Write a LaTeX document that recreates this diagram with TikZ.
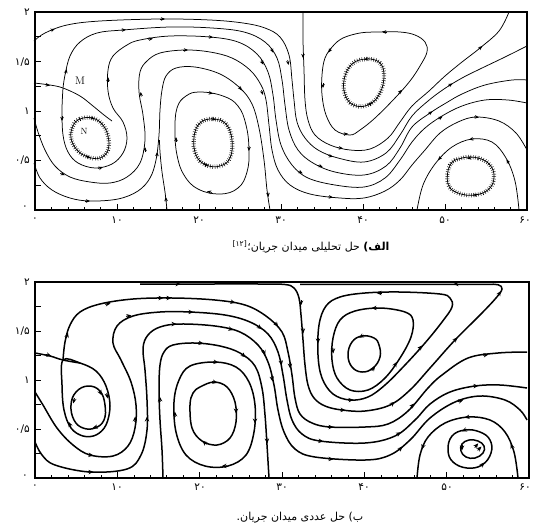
\documentclass[tikz,border=0pt]{standalone}
\usepackage{fontspec}
\newfontfamily\fa[Script=Arabic]{DejaVu Sans}
\TeXXeTstate=1
\usetikzlibrary{arrows.meta,calc}
\tikzset{
  frm/.style={line width=1.1pt},
  sla/.style={line width=0.75pt},
  slb/.style={line width=1.5pt},
  aht/.style={line width=0.6pt,-{Stealth[length=4.2pt,width=3.6pt]}},
  ahbs/.style={line width=0.9pt,-{Stealth[length=5pt,width=4.4pt]}},
  hairs/.style={line width=4.2pt, dash pattern=on 0.45pt off 1.9pt},
  ticklab/.style={font=\fa\fontsize{10.5}{11}\selectfont, inner sep=0pt},
  captxt/.style={font=\fa\fontsize{11}{12}\selectfont, inner sep=0pt},
  lettr/.style={font=\fontsize{11}{12}\selectfont, inner sep=0pt},
}
\newcommand\aha[2]{\draw[aht] ($(#1)!-2pt!(#2)$) -- ($(#1)!3pt!(#2)$);}
\newcommand\ahb[2]{\draw[ahbs] ($(#1)!-2pt!(#2)$) -- ($(#1)!3.5pt!(#2)$);}
\begin{document}
\begin{tikzpicture}[x=1pt,y=-1pt]
\path[use as bounding box] (0,0) rectangle (534,531);
% ================= TOP PANEL =================
\draw[frm] (35,12) rectangle (527,210);
\foreach \i in {1,...,7} \draw[line width=0.6pt] (35,{210-\i*24.75}) -- ++(6,0);
\foreach \i in {1,...,29} \draw[line width=0.6pt] ({35+\i*16.4},210) -- ++(0,-3.5);
\foreach \i in {1,...,5} \draw[line width=0.6pt] ({35+\i*82},210) -- ++(0,-6);
\node[ticklab,anchor=east] (ay1) at (30,12) {۲};
\node[ticklab,anchor=east] (ay2) at (30,62) {۱/۵};
\node[ticklab,anchor=east] (ay3) at (30,111) {۱};
\node[ticklab,anchor=east] (ay4) at (30,160) {۰/۵};
\node[ticklab,anchor=east] (ay5) at (28,208) {۰};
\node[ticklab] (ax0) at (35,220) {۰};
\node[ticklab] (ax1) at (117,220) {۱۰};
\node[ticklab] (ax2) at (199,220) {۲۰};
\node[ticklab] (ax3) at (281,220) {۳۰};
\node[ticklab] (ax4) at (363,220) {۴۰};
\node[ticklab] (ax5) at (445,220) {۵۰};
\node[ticklab] (ax6) at (525,220) {۶۰};
% C1
\draw[sla] plot[smooth,tension=0.6] coordinates {(34,41) (45,33) (67,25) (100,21) (160,19) (210,20) (243,23) (265,28) (280,37) (289,55) (292,80) (294,100) (297,122) (305,138) (318,150) (338,158) (364,162) (386,153) (400,135) (412,116) (428,101) (444,89) (462,78) (480,69) (505,57) (527,46)};
% C2 (from M)
\draw[sla] plot[smooth,tension=0.6] coordinates {(63,88) (65,75) (70,56) (80,42) (97,33) (123,30) (170,27) (212,28) (244,32) (265,42) (277,58) (282,80) (285,105) (289,130) (298,150) (313,163) (335,172) (364,175) (386,166) (400,148) (412,127) (430,113) (446,103) (462,94) (485,85) (512,80) (527,80)};
% C3 (loop around N through M)
\draw[sla] plot[smooth,tension=0.6] coordinates {(63,88) (62,110) (63,135) (68,152) (78,163) (95,168) (112,164) (123,153) (127,138) (123,122) (113,108) (108,91) (108,70) (113,56) (127,45) (140,40) (170,36) (210,37) (238,42) (257,54) (268,72) (273,95) (276,120) (281,145) (292,165) (308,178) (335,185) (364,187) (385,178) (400,160) (412,142) (425,128) (442,116) (462,106) (485,100) (508,100) (527,103)};
% L into M
\draw[sla] plot[smooth,tension=0.6] coordinates {(34,83) (50,85) (63,88) (80,96) (93,106) (104,115) (112,121)};
% C4
\draw[sla] plot[smooth,tension=0.6] coordinates {(34,118) (38,132) (45,150) (55,166) (70,177) (90,182) (110,183) (127,177) (140,163) (145,140) (143,115) (139,92) (140,72) (147,61) (160,53) (185,50) (210,52) (232,58) (250,70) (261,85) (266,100) (269,125) (272,150) (278,170) (290,185) (310,194) (340,198) (364,198) (385,191) (400,180) (412,165) (425,150) (440,133) (458,122) (476,117) (499,121) (516,133) (527,150)};
% C5
\draw[sla] plot[smooth,tension=0.6] coordinates {(34,163) (40,178) (52,190) (70,198) (90,201) (118,199) (138,191) (150,178) (156,160) (159,135) (160,110) (162,90) (166,76) (176,68) (195,67) (220,74) (240,88) (252,104) (259,128) (264,160) (267,190) (270,210)};
% vertical from bottom
\draw[sla] plot[smooth,tension=0.6] coordinates {(167,210) (165,192) (162,172) (160,152) (159.5,140)};
% separatrix from top
\draw[sla] plot[smooth,tension=0.6] coordinates {(303,12) (303,40) (304,70) (305,100) (308,120) (315,135) (330,145) (350,150) (370,149) (388,138) (400,122) (412,106) (429,91) (445,76) (462,62) (480,48) (499,31) (509,12)};
% vortex 1
\draw[sla] plot[smooth cycle,tension=0.7] coordinates {(73,126) (80,119) (92,118) (102,124) (108,136) (108,150) (100,158) (88,157) (77,150) (71,138)};
\draw[hairs] plot[smooth cycle,tension=0.7] coordinates {(73,126) (80,119) (92,118) (102,124) (108,136) (108,150) (100,158) (88,157) (77,150) (71,138)};
% vortex 2
\draw[sla] plot[smooth cycle,tension=0.7] coordinates {(177,108) (186,96) (200,92) (223,96) (238,106) (246,125) (249,150) (247,172) (238,188) (220,194) (198,189) (184,175) (177,155) (175,131)};
\draw[sla] plot[smooth cycle,tension=0.7] coordinates {(200,123) (213,119) (226,124) (232,140) (230,158) (220,166) (206,165) (196,155) (194,137)};
\draw[hairs] plot[smooth cycle,tension=0.7] coordinates {(200,123) (213,119) (226,124) (232,140) (230,158) (220,166) (206,165) (196,155) (194,137)};
% vortex 3
\draw[sla] plot[smooth cycle,tension=0.6] coordinates {(415,35) (400,32) (377,32) (360,33) (343,38) (333,46) (325,58) (322,75) (322,95) (326,115) (335,130) (350,135) (360,130) (375,118) (395,98) (410,81) (420,66) (427,52) (425,42)};
\draw[sla] plot[smooth cycle,tension=0.7] coordinates {(380,63) (367,59) (352,64) (344,80) (346,97) (356,106) (370,104) (380,93) (384,76)};
\draw[hairs] plot[smooth cycle,tension=0.7] coordinates {(380,63) (367,59) (352,64) (344,80) (346,97) (356,106) (370,104) (380,93) (384,76)};
% vortex 4
\draw[sla] plot[smooth,tension=0.6] coordinates {(519,210) (515,181) (506,158) (492,142) (472,139) (452,147) (435,164) (423,185) (417,210)};
\draw[sla] plot[smooth cycle,tension=0.7] coordinates {(490,165) (478,158) (462,158) (450,165) (448,184) (458,193) (475,195) (489,189) (494,177)};
\draw[hairs] plot[smooth cycle,tension=0.7] coordinates {(490,165) (478,158) (462,158) (450,165) (448,184) (458,193) (475,195) (489,189) (494,177)};
% arrows, top panel
\aha{162,19}{175,19} \aha{288,62}{291,78} \aha{330,156}{345,160} \aha{450,85}{462,78} \aha{52,30}{60,27}
\aha{123,30}{140,29} \aha{272,50}{279,65} \aha{320,166}{335,172} \aha{430,113}{446,103} \aha{66,72}{69,60}
\aha{62,118}{62,130} \aha{100,168}{112,164} \aha{108,80}{108,68} \aha{150,39}{165,37} \aha{262,62}{268,74} \aha{300,172}{312,178} \aha{440,118}{452,111} \aha{210,37}{222,38}
\aha{47,85}{58,87}
\aha{62,174}{72,178} \aha{145,150}{145,138} \aha{185,50}{198,50} \aha{262,92}{266,104} \aha{330,197}{345,199} \aha{476,117}{490,119} \aha{141,95}{140,84}
\aha{87,201}{100,201} \aha{157,155}{158,143} \aha{240,88}{250,101} \aha{268,194}{269,206}
\aha{166,200}{165,190}
\aha{303,55}{303,68} \aha{340,148}{355,150} \aha{480,48}{490,40}
\aha{210,93}{223,96} \aha{249,148}{248,160} \aha{210,192}{198,189} \aha{176,140}{176,125}
\aha{385,32}{372,32} \aha{323,85}{323,100} \aha{345,134}{356,133} \aha{400,92}{410,81} \aha{330,50}{325,58}
\aha{508,162}{503,153} \aha{440,158}{433,166} \aha{472,139}{462,141}
\aha{92,118}{100,122} \aha{88,157}{80,152} \aha{213,119}{222,122} \aha{206,165}{199,159}
\aha{367,59}{358,61} \aha{370,104}{377,98} \aha{470,158}{460,160} \aha{475,195}{484,191}
\node[lettr] (labM) at (80,81) {M};
\node[font=\fontsize{9}{10}\selectfont, inner sep=0pt] (labN) at (84,131) {N};
\node[captxt] (capA) at (311,247) {\beginR\textbf{الف)} حل تحلیلی میدان جریان؛\textsuperscript{[۱۲]}\endR};
% ================= BOTTOM PANEL =================
\draw[frm] (35,282) rectangle (529,478);
\foreach \i in {1,...,7} \draw[line width=0.6pt] (35,{478-\i*24.5}) -- ++(6,0);
\foreach \i in {1,...,29} \draw[line width=0.6pt] ({35+\i*16.47},478) -- ++(0,-3.5);
\foreach \i in {1,...,5} \draw[line width=0.6pt] ({35+\i*82.33},478) -- ++(0,-6);
\node[ticklab,anchor=east] (by1) at (30,282) {۲};
\node[ticklab,anchor=east] (by2) at (30,331) {۱/۵};
\node[ticklab,anchor=east] (by3) at (30,380) {۱};
\node[ticklab,anchor=east] (by4) at (30,429) {۰/۵};
\node[ticklab,anchor=east] (by5) at (28,477) {۰};
\node[ticklab] (bx0) at (35,487) {۰};
\node[ticklab] (bx1) at (117,487) {۱۰};
\node[ticklab] (bx2) at (200,487) {۲۰};
\node[ticklab] (bx3) at (282,487) {۳۰};
\node[ticklab] (bx4) at (364,487) {۴۰};
\node[ticklab] (bx5) at (447,487) {۵۰};
\node[ticklab] (bx6) at (525,487) {۶۰};
% top line / separatrix
\draw[slb] plot[smooth,tension=0.6] coordinates {(140,284) (200,284) (260,284) (285,284.5) (294,288) (299,298) (301,315) (303,340) (305,365) (308,385) (314,398) (325,406) (342,410) (365,411) (390,405) (410,390) (430,368) (455,340) (480,315) (496,298) (502,289) (498,284.7) (485,284.3) (450,284.3) (400,284.3) (340,284.3) (300,284.3)};
% B1
\draw[slb] plot[smooth,tension=0.6] coordinates {(63,360) (65,342) (70,325) (80,312) (100,304) (133,299) (173,298) (215,300) (245,305) (266,316) (282,332) (288,352) (292,375) (295,398) (300,414) (312,423) (330,427) (365,427) (388,424) (408,411) (428,388) (442,375) (468,358) (498,353) (527,352)};
% Lb
\draw[slb] plot[smooth,tension=0.6] coordinates {(35,353) (50,356) (63,360) (80,363)};
% B2
\draw[slb] plot[smooth,tension=0.6] coordinates {(35,392) (43,405) (57,428) (73,445) (90,455) (113,456) (128,446) (135,428) (136,405) (131,382) (121,360) (113,343) (117,326) (133,316) (160,312) (190,312) (225,315) (250,322) (268,334) (278,352) (283,375) (287,400) (292,420) (302,434) (320,441) (365,443) (395,436) (415,420) (430,404) (450,392) (475,386) (500,385) (527,388)};
% B3
\draw[slb] plot[smooth,tension=0.6] coordinates {(35,442) (42,455) (55,465) (90,472) (127,469) (141,455) (147,430) (147,400) (145,370) (143,348) (148,335) (160,327) (180,324) (215,326) (240,332) (258,345) (268,362) (274,385) (278,410) (284,432) (295,449) (315,457) (365,460) (390,455) (410,440) (430,418) (455,402) (480,396) (505,400) (520,410) (527,420)};
% B4
\draw[slb] plot[smooth,tension=0.6] coordinates {(163,478) (162,450) (160,420) (159,390) (160,365) (164,352) (173,345) (195,343) (220,346) (240,353) (255,366) (262,388) (265,415) (267,445) (269,478)};
% vortex 1b
\draw[slb] plot[smooth cycle,tension=0.6] coordinates {(63,360) (80,363) (96,371) (106,386) (110,406) (106,425) (96,435) (83,436) (71,428) (64,410) (62,385)};
\draw[slb] plot[smooth cycle,tension=0.7] coordinates {(76,392) (88,386) (100,391) (105,405) (104,420) (95,428) (83,428) (74,420) (71,405)};
% vortex 2b
\draw[slb] plot[smooth cycle,tension=0.6] coordinates {(190,366) (215,362) (236,367) (249,382) (255,405) (254,432) (246,455) (228,466) (205,466) (186,455) (176,432) (174,402) (179,380)};
\draw[slb] plot[smooth cycle,tension=0.6] coordinates {(200,387) (214,382) (227,387) (235,402) (236,422) (230,438) (217,445) (202,441) (192,428) (190,405) (193,393)};
% vortex 3b
\draw[slb] plot[smooth cycle,tension=0.6] coordinates {(440,294) (400,292) (365,293) (340,297) (326,306) (319,325) (318,355) (322,378) (333,394) (350,400) (368,397) (385,385) (405,365) (425,343) (442,322) (452,307) (450,298)};
\draw[slb] plot[smooth cycle,tension=0.6] coordinates {(405,312) (380,308) (355,311) (340,320) (333,338) (332,360) (337,378) (350,390) (368,390) (385,378) (400,358) (411,337) (413,320)};
\draw[slb] plot[smooth cycle,tension=0.7] coordinates {(374,338) (362,336) (352,342) (348,355) (352,367) (362,372) (373,368) (380,357) (379,345)};
% vortex 4b
\draw[slb] plot[smooth,tension=0.6] coordinates {(518,478) (514,452) (505,432) (490,420) (468,417) (445,423) (428,437) (420,455) (417,478)};
\draw[slb] plot[smooth cycle,tension=0.7] coordinates {(480,432) (465,430) (452,436) (448,450) (453,462) (467,468) (482,465) (491,453) (490,440)};
\draw[slb] plot[smooth cycle,tension=0.7] coordinates {(478,441) (469,440) (462,444) (461,451) (466,457) (475,458) (483,453) (484,446)};
% arrows, bottom panel
\ahb{177,284}{190,284} \ahb{457,284}{445,284} \ahb{303,330}{304,345} \ahb{342,410}{356,411} \ahb{455,340}{468,327} \ahb{499,294}{502,289} \ahb{301,302}{301,315} \ahb{392,404}{402,396}
\ahb{67,336}{70,325} \ahb{107,304}{120,302} \ahb{160,298}{172,298} \ahb{168,298}{180,298} \ahb{290,365}{291,378} \ahb{330,427}{345,427} \ahb{485,355}{498,353} \ahb{232,302}{245,305} \ahb{276,324}{282,332} \ahb{412,406}{420,397}
\ahb{48,355}{58,358}
\ahb{90,455}{105,457} \ahb{135,420}{136,405} \ahb{190,312}{205,313} \ahb{281,362}{283,375} \ahb{320,441}{335,443} \ahb{475,386}{490,385} \ahb{128,316}{140,314} \ahb{259,327}{268,334} \ahb{398,434}{408,428}
\ahb{90,472}{105,471} \ahb{147,420}{147,408} \ahb{173,324}{188,324} \ahb{272,378}{274,390} \ahb{330,459}{345,460} \ahb{460,401}{472,397} \ahb{230,329}{240,332} \ahb{264,352}{268,362} \ahb{400,449}{410,440}
\ahb{160,400}{159,388} \ahb{200,343}{213,345} \ahb{267,440}{268,452} \ahb{243,355}{252,363}
\ahb{107,395}{109,408} \ahb{70,425}{65,414}
\ahb{74,400}{72,410} \ahb{100,392}{104,400} \ahb{96,427}{88,429}
\ahb{215,362}{228,364} \ahb{255,420}{255,435} \ahb{225,466}{212,467} \ahb{175,415}{174,400}
\ahb{236,410}{236,422} \ahb{205,443}{196,436} \ahb{214,382}{222,384}
\ahb{380,293}{368,293} \ahb{318,340}{318,352} \ahb{350,400}{360,399} \ahb{420,348}{430,337}
\ahb{375,308}{364,309} \ahb{333,350}{334,362} \ahb{395,365}{402,352}
\ahb{362,336}{355,340} \ahb{373,369}{379,361}
\ahb{512,447}{508,437} \ahb{468,417}{456,419} \ahb{423,446}{420,456}
\ahb{465,430}{455,434} \ahb{482,465}{489,458}
\ahb{476,446}{480,441} \ahb{479,449}{483,445} \ahb{462,447}{462,454}
\node[captxt] (capB) at (300,518) {\beginR ب) حل عددی میدان جریان.\endR};
\end{tikzpicture}
\end{document}
